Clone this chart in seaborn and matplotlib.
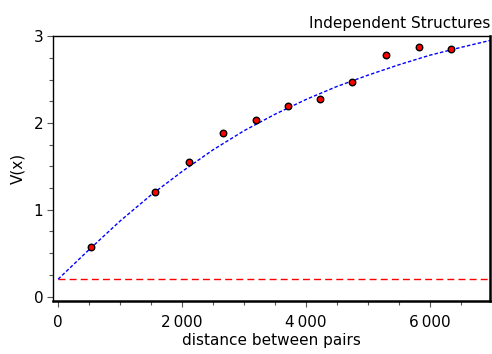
import numpy as np
import pandas as pd
import matplotlib
matplotlib.use("Agg")
import matplotlib.pyplot as plt
import seaborn as sns
from matplotlib.ticker import MultipleLocator

# experimental variogram points
dist = [532, 1565, 2113, 2661, 3194, 3710, 4226, 4742, 5290, 5823, 6339]
vario = [0.57, 1.21, 1.55, 1.88, 2.03, 2.20, 2.28, 2.47, 2.78, 2.87, 2.85]

# fitted model curve
model_x = [0, 500, 1000, 1500, 2000, 2500, 3000, 3500, 4000, 4500, 5000, 5500, 6000, 6500, 6970]
model_y = [0.20, 0.54, 0.87, 1.17, 1.44, 1.69, 1.91, 2.10, 2.27, 2.42, 2.55, 2.67, 2.78, 2.87, 2.95]

nugget = 0.2
xticks = [0, 2000, 4000, 6000]
xtick_labels = ["0", "2\u2009000", "4\u2009000", "6\u2009000"]
yticks = [0, 1, 2, 3]

pts = pd.DataFrame({"dist": dist, "v": vario})
model = pd.DataFrame({"dist": model_x, "v": model_y})
nug = pd.DataFrame({"dist": [model_x[0], model_x[-1]], "v": [nugget, nugget]})

sns.set_style("ticks")
plt.rcParams["font.family"] = ["DejaVu Sans"]
plt.rcParams["text.color"] = "black"
plt.rcParams["axes.labelcolor"] = "black"

fig = plt.figure(figsize=(4.92, 3.54), dpi=100)
ax = fig.add_axes([0.108, 0.150, 0.888, 0.748])

sns.lineplot(data=nug, x="dist", y="v", ax=ax, color="red", lw=1.0,
             linestyle=(0, (5, 3)))
sns.lineplot(data=model, x="dist", y="v", ax=ax, color="blue", lw=1.0,
             linestyle=(0, (2.5, 1.5)))
sns.scatterplot(data=pts, x="dist", y="v", ax=ax, color="red",
                edgecolor="black", linewidth=1, s=22, zorder=5)

ax.set_xlim(-80, 6970)
ax.set_ylim(-0.05, 3.0)
ax.set_xticks(xticks, xtick_labels)
ax.set_yticks(yticks)
ax.xaxis.set_minor_locator(MultipleLocator(500))
ax.yaxis.set_minor_locator(MultipleLocator(0.25))
ax.tick_params(which="major", length=4, width=0.8, labelsize=11,
               color="#555555", labelcolor="black")
ax.tick_params(which="minor", length=3, width=0.8, color="#555555")
ax.tick_params(axis="x", which="major", pad=6)
ax.tick_params(axis="y", which="major", pad=3)

for side in ["top", "left"]:
    ax.spines[side].set_linewidth(1.0)
for side in ["bottom", "right"]:
    ax.spines[side].set_linewidth(1.8)
for s in ax.spines.values():
    s.set_color("black")

ax.set_xlabel("distance between pairs", fontsize=11, labelpad=2)
ax.set_ylabel("V(x)", fontsize=11, labelpad=6)
ax.set_title("Independent Structures", fontsize=11, loc="right", pad=6,
             color="black")

fig.savefig("out.png", dpi=100)
